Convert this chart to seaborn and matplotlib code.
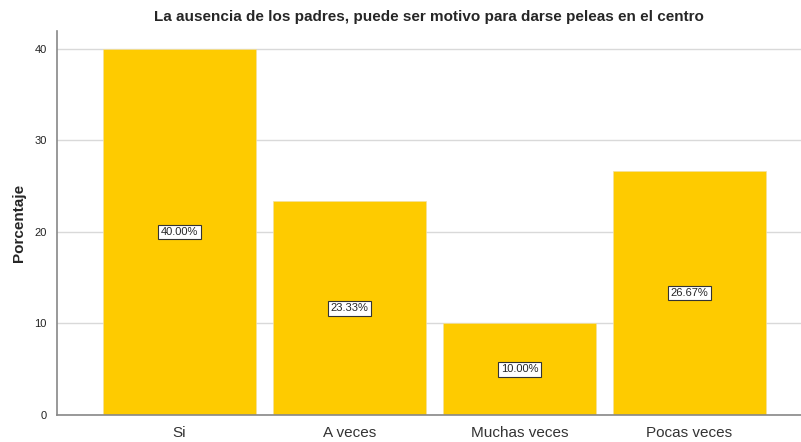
"""
Bar chart: La ausencia de los padres, puede ser motivo para darse peleas en el centro
"""

import matplotlib
matplotlib.use('Agg')
import matplotlib.pyplot as plt
import seaborn as sns
import pandas as pd

categorias = ['Si', 'A veces', 'Muchas veces', 'Pocas veces']
porcentajes = [40.00, 23.33, 10.00, 26.67]
etiquetas = ['40.00%', '23.33%', '10.00%', '26.67%']
yticks = [0, 10, 20, 30, 40]

sns.set_style('white')
plt.rcParams['font.family'] = ['Liberation Sans', 'DejaVu Sans']

df = pd.DataFrame({'categoria': categorias, 'porcentaje': porcentajes})

fig = plt.figure(figsize=(8.01, 4.42), dpi=100)
ax = fig.add_axes([0.0712, 0.0611, 0.9288, 0.869])

# gridlines behind bars
ax.set_axisbelow(True)
ax.yaxis.grid(True, color='#d9d9d9', linewidth=1)

sns.barplot(data=df, x='categoria', y='porcentaje', color='#fecb00',
            saturation=1, width=0.9, edgecolor='#f2e0a0', linewidth=0.5, ax=ax)

for i, (v, lab) in enumerate(zip(porcentajes, etiquetas)):
    ax.text(i, v / 2, lab, ha='center', va='center', fontsize=8,
            bbox=dict(boxstyle='square,pad=0.22', facecolor='white',
                      edgecolor='#333333', linewidth=0.8))

ax.set_xlim(-0.72, 3.656)
ax.set_ylim(0, 41.97)
ax.set_yticks(yticks)
ax.tick_params(axis='y', labelsize=8, length=4, color='#999999', colors='#222222')
ax.tick_params(axis='x', labelsize=11, length=0, pad=8, colors='#333333')
ax.set_xlabel('')
ax.set_ylabel('Porcentaje', fontsize=11, fontweight='bold', labelpad=6)
ax.set_title('La ausencia de los padres, puede ser motivo para darse peleas en el centro',
             fontsize=11, fontweight='bold', pad=7)

for s in ['top', 'right']:
    ax.spines[s].set_visible(False)
for s in ['left', 'bottom']:
    ax.spines[s].set_color('#888888')
    ax.spines[s].set_linewidth(1.2)

plt.savefig('out.png', dpi=100)
plt.close()
